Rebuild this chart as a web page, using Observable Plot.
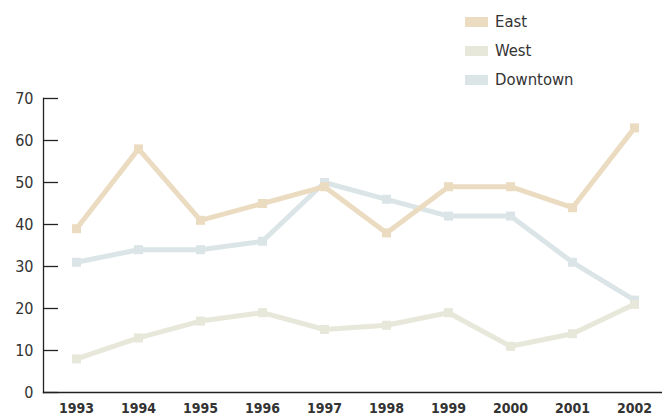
<!DOCTYPE html>
<html>
<head>
<meta charset="utf-8">
<script src="https://cdn.jsdelivr.net/npm/d3@7"></script>
<script src="https://cdn.jsdelivr.net/npm/@observablehq/plot@0.6"></script>
<style>
  html, body { margin: 0; padding: 0; background: #fff; }
  body { width: 662px; height: 418px; overflow: hidden; font-family: "DejaVu Sans Condensed", "DejaVu Sans", sans-serif; }
  #legend { position: relative; height: 90px; }
  .item { position: absolute; left: 465px; display: flex; align-items: center; font-size: 16.5px; color: #333; }
  .sw { width: 23px; height: 10px; margin-right: 7px; }
</style>
</head>
<body>
<div id="legend"></div>
<div id="chart"></div>
<script>
const years = [1993, 1994, 1995, 1996, 1997, 1998, 1999, 2000, 2001, 2002];
const east = [39, 58, 41, 45, 49, 38, 49, 49, 44, 63];
const west = [8, 13, 17, 19, 15, 16, 19, 11, 14, 21];
const downtown = [31, 34, 34, 36, 50, 46, 42, 42, 31, 22];
const seriesNames = ["East", "West", "Downtown"];
const seriesColors = ["#ebdcc1", "#e7e8da", "#dbe5e8"];
const yTicks = [0, 10, 20, 30, 40, 50, 60, 70];

const values = {East: east, West: west, Downtown: downtown};
const drawOrder = ["Downtown", "West", "East"];
const data = drawOrder.flatMap(s => years.map((yr, i) => ({year: String(yr), value: values[s][i], series: s})));

// legend
const legend = document.getElementById("legend");
seriesNames.forEach((name, i) => {
  const row = document.createElement("div");
  row.className = "item";
  row.style.top = (12 + i * 29) + "px";
  const sw = document.createElement("div");
  sw.className = "sw";
  sw.style.background = seriesColors[i];
  const t = document.createElement("span");
  t.textContent = name;
  row.appendChild(sw);
  row.appendChild(t);
  legend.appendChild(row);
});

const chart = Plot.plot({
  width: 662,
  height: 328,
  marginTop: 8,
  marginBottom: 26,
  marginLeft: 43,
  marginRight: 0,
  style: {fontFamily: "'DejaVu Sans Condensed', 'DejaVu Sans', sans-serif", color: "#333", background: "#fff"},
  x: {type: "point", domain: years.map(String), range: [74, 636], padding: 0},
  y: {domain: [0, 70]},
  color: {domain: seriesNames, range: seriesColors},
  marks: [
    Plot.frame({anchor: "left", stroke: "#222", strokeWidth: 1.3}),
    Plot.frame({anchor: "bottom", stroke: "#222", strokeWidth: 1.3}),
    Plot.axisY({ticks: yTicks, tickSize: -15, tickPadding: 25, label: null, fontSize: 16, stroke: "#222", strokeWidth: 1.3}),
    Plot.axisX({tickSize: 0, tickPadding: 11, label: null, fontSize: 14, fontWeight: "bold"}),
    Plot.line(data, {x: "year", y: "value", z: "series", stroke: "series", strokeWidth: 5, strokeLinejoin: "miter"}),
    Plot.dot(data, {x: "year", y: "value", fill: "series", symbol: "square", r: 5.1})
  ]
});
document.getElementById("chart").appendChild(chart);
</script>
</body>
</html>
